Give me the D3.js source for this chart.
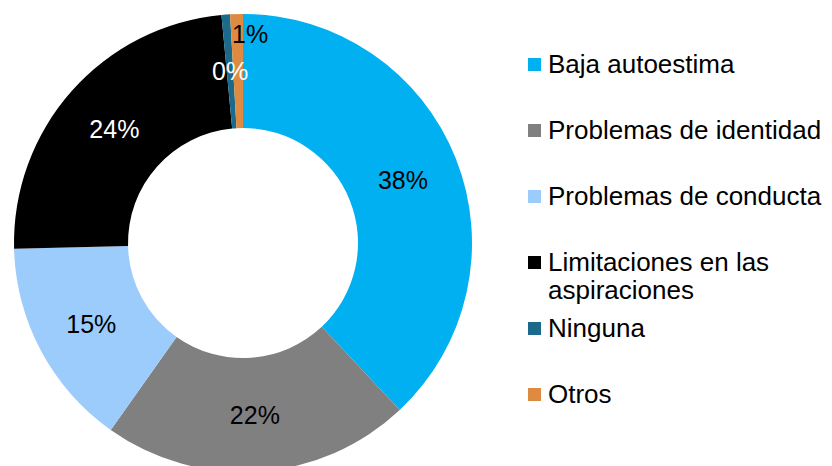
<!DOCTYPE html>
<html>
<head>
<meta charset="utf-8">
<script src="https://cdn.jsdelivr.net/npm/d3@7"></script>
<style>
  html, body { margin: 0; padding: 0; background: #fff; }
  svg { display: block; font-family: "Liberation Sans", Arial, sans-serif; }
</style>
</head>
<body>
<svg id="chart" width="832" height="466"></svg>
<script>
const categories = ["Baja autoestima", "Problemas de identidad", "Problemas de conducta", "Limitaciones en las aspiraciones", "Ninguna", "Otros"];
const legendLines = [["Baja autoestima"], ["Problemas de identidad"], ["Problemas de conducta"], ["Limitaciones en las", "aspiraciones"], ["Ninguna"], ["Otros"]];
const values = [38.0, 21.8, 14.8, 23.9, 0.6, 0.9];
const labels = ["38%", "22%", "15%", "24%", "0%", "1%"];
const colors = ["#00B0F0", "#808080", "#9CCCFC", "#000000", "#1B6A8C", "#DE8A40"];
const labelColors = ["#000", "#000", "#000", "#fff", "#fff", "#000"];

const svg = d3.select("#chart");
const cx = 243, cy = 243, rOuter = 229, rInner = 115;

const pie = d3.pie().sort(null).value(d => d)(values);
const arc = d3.arc().innerRadius(rInner).outerRadius(rOuter);
const g = svg.append("g").attr("transform", `translate(${cx},${cy})`);

g.selectAll("path.slice").data(pie).join("path")
  .attr("class", "slice")
  .attr("d", arc)
  .attr("fill", (d, i) => colors[i]);

const labelArc = d3.arc().innerRadius((rInner + rOuter) / 2).outerRadius((rInner + rOuter) / 2);
const outerLabelArc = d3.arc().innerRadius(209).outerRadius(209);
g.selectAll("text.lbl").data(pie).join("text")
  .attr("class", "lbl")
  .attr("transform", (d, i) => {
    let p = labelArc.centroid(d);
    if (i === 5) { p = outerLabelArc.centroid(d); p[0] += 13; }
    return `translate(${p[0]},${p[1]})`;
  })
  .attr("text-anchor", "middle")
  .attr("dy", "0.36em")
  .attr("font-size", 25)
  .attr("fill", (d, i) => labelColors[i])
  .text((d, i) => labels[i]);

// Legend
const baselines = [73, 139, 205, 271, 337, 403];
const leg = svg.append("g");
categories.forEach((c, i) => {
  leg.append("rect")
    .attr("x", 528).attr("y", baselines[i] - 15)
    .attr("width", 13).attr("height", 13)
    .attr("fill", colors[i]);
  const t = leg.append("text")
    .attr("x", 548).attr("y", baselines[i])
    .attr("font-size", 26)
    .attr("fill", "#000");
  legendLines[i].forEach((line, j) => {
    t.append("tspan").attr("x", 548).attr("dy", j === 0 ? 0 : 28).text(line);
  });
});
</script>
</body>
</html>
